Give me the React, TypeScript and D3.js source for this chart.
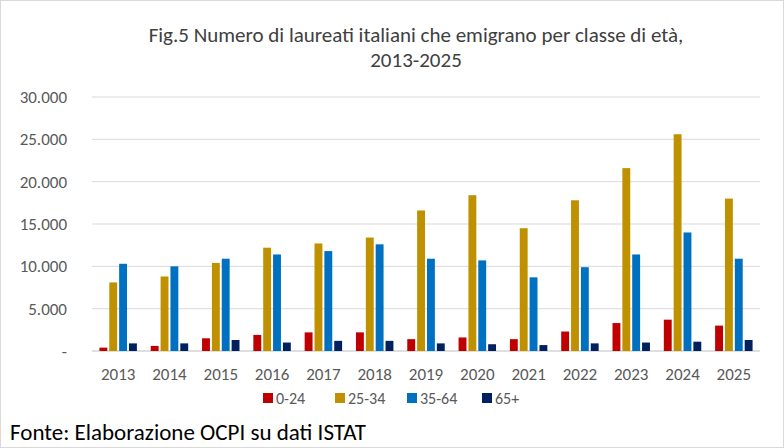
import React from "react";
import * as d3 from "d3";

const years = ["2013","2014","2015","2016","2017","2018","2019","2020","2021","2022","2023","2024","2025"];
const seriesNames = ["0-24","25-34","35-64","65+"];
const colors = ["#c00000","#bf9000","#0070c0","#002060"];
const s0_24 = [400,600,1500,1900,2200,2200,1400,1600,1400,2300,3300,3700,3000];
const s25_34 = [8100,8800,10400,12200,12700,13400,16600,18400,14500,17800,21600,25600,18000];
const s35_64 = [10300,10000,10900,11400,11800,12600,10900,10700,8700,9900,11400,14000,10900];
const s65 = [900,900,1300,1000,1200,1200,900,800,700,900,1000,1100,1300];
const yTicks = [0,5000,10000,15000,20000,25000,30000];
const series = [s0_24, s25_34, s35_64, s65];

export default function App() {
  const W = 784, H = 448;
  const x = d3.scaleBand().domain(years).range([92.5, 759.5]).paddingInner(0.27).paddingOuter(0.135);
  const inner = d3.scaleBand().domain(seriesNames).range([0, x.bandwidth()]).paddingInner(0.2);
  const y = d3.scaleLinear().domain([0, 30000]).range([351, 97]);
  const fmt = (v: number) => v === 0 ? "-" : d3.format(",")(v).replace(/,/g, ".");
  const font = "Calibri, Lato, sans-serif";
  const legendX = [263, 335, 407, 482];
  return (
    <svg width={W} height={H} style={{ position: "absolute", left: 0, top: 0, fontFamily: font }}>
      <rect x={0.5} y={0.5} width={W - 1} height={H - 1} fill="#fff" stroke="#d9d9d9" />
      <text x={416} y={42} textAnchor="middle" fontSize={21} fill="#404040">Fig.5 Numero di laureati italiani che emigrano per classe di età,</text>
      <text x={416} y={67} textAnchor="middle" fontSize={21} fill="#404040">2013-2025</text>
      {yTicks.map(t => (
        <g key={t}>
          {t > 0 && <line x1={92} x2={760} y1={y(t)} y2={y(t)} stroke="#d9d9d9" />}
          <text x={67} y={y(t) + 6} textAnchor="end" fontSize={17} fill="#595959">{fmt(t)}</text>
        </g>
      ))}
      <line x1={92} x2={760} y1={y(0)} y2={y(0)} stroke="#bfbfbf" />
      {years.map((yr, i) => (
        <g key={yr}>
          {series.map((s, j) => (
            <rect key={j} x={x(yr)! + inner(seriesNames[j])!} width={inner.bandwidth()} y={y(s[i])} height={y(0) - y(s[i])} fill={colors[j]} />
          ))}
          <text x={x(yr)! + x.bandwidth() / 2} y={380} textAnchor="middle" fontSize={17} fill="#595959">{yr}</text>
        </g>
      ))}
      {seriesNames.map((n, j) => (
        <g key={n}>
          <rect x={legendX[j]} y={393} width={10} height={10} fill={colors[j]} />
          <text x={legendX[j] + 13} y={404} fontSize={16} fill="#595959">{n}</text>
        </g>
      ))}
      <text x={10} y={440} fontSize={23} fill="#000">Fonte: Elaborazione OCPI su dati ISTAT</text>
    </svg>
  );
}
